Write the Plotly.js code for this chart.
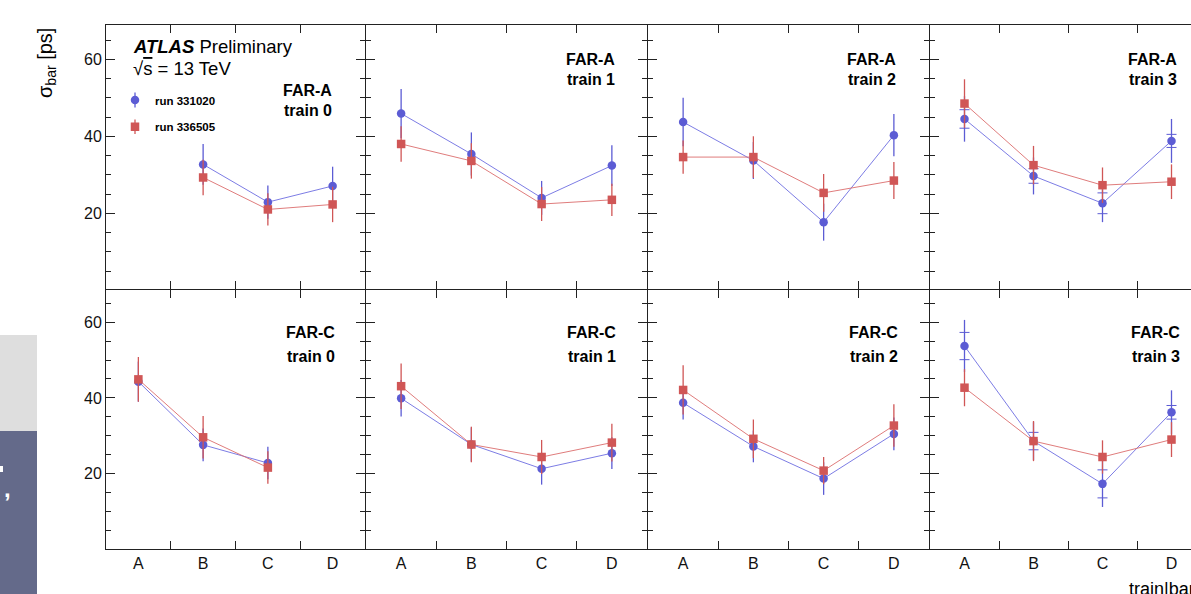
<!DOCTYPE html>
<html>
<head>
<meta charset="utf-8">
<script src="https://cdn.plot.ly/plotly-3.0.1.min.js"></script>
<style>
html, body { margin:0; padding:0; overflow:hidden; background:#fff; width:1191px; height:594px; }
#chart { width:1210px; height:600px; }
</style>
</head>
<body>
<div id="chart"></div>
<script>
// ---------------- data ----------------
const categories = ['A', 'B', 'C', 'D'];
const detectors = ['FAR-A', 'FAR-C'];
const trains = ['train 0', 'train 1', 'train 2', 'train 3'];
const runNames = ['run 331020', 'run 336505'];

// run 331020 (blue): sigma_bar [ps] per train
const run331020_FARA = [
  [null, 32.7, 22.9, 27.1],
  [45.9, 35.4, 24.0, 32.4],
  [43.7, 33.7, 17.7, 40.3],
  [44.5, 29.7, 22.6, 38.8]
];
const run331020_FARA_err = [
  [null, 5.3, 4.3, 5.0],
  [6.4, 5.6, 4.4, 5.3],
  [6.3, 4.8, 4.8, 5.5],
  [5.9, 4.8, 4.9, 5.7]
];
const run331020_FARC = [
  [44.3, 27.6, 22.8, null],
  [39.9, 27.7, 21.3, 25.4],
  [38.7, 27.2, 18.7, 30.5],
  [53.7, 28.6, 17.3, 36.2]
];
const run331020_FARC_err = [
  [5.3, 4.3, 4.3, null],
  [4.8, 4.5, 4.2, 4.2],
  [4.4, 4.2, 4.3, 4.3],
  [6.9, 5.0, 6.1, 5.8]
];
// inner (capped) uncertainty, train 3 only
const run331020_FARA_train3_inner = [2.4, 1.9, 2.7, 1.7];
const run331020_FARC_train3_inner = [3.6, 2.3, 3.7, 1.8];

// run 336505 (red)
const run336505_FARA = [
  [null, 29.3, 21.0, 22.3],
  [38.0, 33.6, 22.4, 23.5],
  [34.6, 34.6, 25.3, 28.5],
  [48.5, 32.5, 27.3, 28.2]
];
const run336505_FARA_err = [
  [null, 4.6, 4.2, 4.6],
  [4.6, 4.6, 4.4, 4.2],
  [4.3, 5.4, 4.9, 4.8],
  [6.3, 5.0, 4.6, 4.5]
];
const run336505_FARC = [
  [44.9, 29.6, 21.6, null],
  [43.1, 27.7, 24.4, 28.2],
  [42.1, 29.2, 20.8, 32.7],
  [42.7, 28.6, 24.4, 29.0]
];
const run336505_FARC_err = [
  [5.9, 5.6, 4.3, null],
  [6.0, 4.7, 4.5, 5.0],
  [6.5, 5.1, 3.6, 5.6],
  [4.9, 5.3, 4.4, 4.6]
];

// ---------------- layout helpers ----------------
const W = 1210, H = 600;
const px = v => v / W;
const py = v => 1 - v / H;

// frame line positions (px); panels sit between them with a half-pixel inset
const colEdges = [105.5, 365.5, 647.5, 929.5, 1206.5];
const rowEdges = [24.5, 289.5, 549.5];
const yRanges = [[0.34, 68.9], [0.1, 68.5]];

const BLUE = 'rgb(92,92,212)';
const BLUE_LINE = 'rgba(110,110,225,0.9)';
const RED = 'rgb(208,86,86)';
const RED_LINE = 'rgba(220,110,110,0.9)';
const FRAME = '#222';

const blueVals = [run331020_FARA, run331020_FARC];
const blueErrs = [run331020_FARA_err, run331020_FARC_err];
const redVals = [run336505_FARA, run336505_FARC];
const redErrs = [run336505_FARA_err, run336505_FARC_err];
const blueInner = [run331020_FARA_train3_inner, run331020_FARC_train3_inner];

const traces = [];
const layout = {
  width: W, height: H,
  margin: {l: 0, r: 0, t: 0, b: 0},
  paper_bgcolor: '#fff', plot_bgcolor: '#fff',
  font: {family: 'Liberation Sans, Arial, sans-serif', color: '#111'},
  showlegend: true,
  annotations: [], shapes: []
};

const labelPos = [
  [334, 91, 110], [616.7, 60, 80], [897.7, 60, 80], [1179.3, 60, 80],
  [336.7, 332.5, 356], [618.3, 332.5, 356], [900, 332.5, 356], [1181.7, 332.5, 356]
];

for (let i = 0; i < 8; i++) {
  const row = Math.floor(i / 4), col = i % 4;
  const s = i === 0 ? '' : String(i + 1);
  const xa = 'x' + s, ya = 'y' + s;

  layout['xaxis' + s] = {
    domain: [px(colEdges[col] + 0.5), px(colEdges[col + 1] - 0.5)],
    anchor: ya, type: 'category', categoryorder: 'array', categoryarray: categories,
    range: [-0.5, 3.5], tickson: 'boundaries',
    ticks: 'inside', ticklen: 8, tickwidth: 1, tickcolor: FRAME,
    mirror: 'ticks', showline: true, linecolor: FRAME, linewidth: 1,
    showgrid: false, zeroline: false, fixedrange: true,
    showticklabels: row === 1, tickfont: {size: 16, color: '#111'}
  };
  layout['yaxis' + s] = {
    domain: [py(rowEdges[row + 1] - 0.5), py(rowEdges[row] + 0.5)],
    anchor: xa, range: yRanges[row],
    tickmode: 'linear', tick0: 0, dtick: 20,
    ticks: 'inside', ticklen: 9, tickwidth: 1, tickcolor: FRAME,
    minor: {tick0: 0, dtick: 5, ticks: 'inside', ticklen: 5, tickwidth: 1, tickcolor: FRAME},
    mirror: 'ticks', showline: true, linecolor: FRAME, linewidth: 1,
    showgrid: false, zeroline: false, fixedrange: true,
    showticklabels: col === 0, tickfont: {size: 16, color: '#111'}
  };

  if (col === 3) {
    traces.push({
      x: categories, y: blueVals[row][col], xaxis: xa, yaxis: ya,
      type: 'scatter', mode: 'markers', showlegend: false, hoverinfo: 'skip',
      marker: {size: 1, color: 'rgba(0,0,0,0)'},
      error_y: {type: 'data', array: blueInner[row], visible: true, width: 5, thickness: 1, color: BLUE}
    });
  }
  traces.push({
    x: categories, y: blueVals[row][col], xaxis: xa, yaxis: ya,
    type: 'scatter', mode: 'lines+markers', showlegend: false, hoverinfo: 'skip',
    name: runNames[0], connectgaps: false,
    line: {color: BLUE_LINE, width: 1},
    marker: {symbol: 'circle', size: 8.5, color: BLUE},
    error_y: {type: 'data', array: blueErrs[row][col], visible: true, width: 0, thickness: 1.3, color: BLUE}
  });
  traces.push({
    x: categories, y: redVals[row][col], xaxis: xa, yaxis: ya,
    type: 'scatter', mode: 'lines+markers', showlegend: false, hoverinfo: 'skip',
    name: runNames[1], connectgaps: false,
    line: {color: RED_LINE, width: 1},
    marker: {symbol: 'square', size: 8.5, color: RED},
    error_y: {type: 'data', array: redErrs[row][col], visible: true, width: 0, thickness: 1.3, color: RED}
  });

  const lp = labelPos[i];
  layout.annotations.push({
    xref: 'paper', yref: 'paper', x: px(lp[0]), y: py(lp[1]), xanchor: 'right', yanchor: 'middle',
    text: '<b>' + detectors[row] + '</b>', showarrow: false, font: {size: 16, color: '#000'}
  });
  layout.annotations.push({
    xref: 'paper', yref: 'paper', x: px(lp[0]), y: py(lp[2]), xanchor: 'right', yanchor: 'middle',
    text: '<b>' + trains[col] + '</b>', showarrow: false, font: {size: 16, color: '#000'}
  });
}

// legend entries (marker only)
traces.push({x: [null], y: [null], xaxis: 'x', yaxis: 'y', type: 'scatter', mode: 'markers',
  name: runNames[0], legend: 'legend', marker: {symbol: 'circle', size: 8.5, color: BLUE}});
traces.push({x: [null], y: [null], xaxis: 'x', yaxis: 'y', type: 'scatter', mode: 'markers',
  name: runNames[1], legend: 'legend2', marker: {symbol: 'square', size: 8.5, color: RED}});

const legFont = {size: 11.5, color: '#000', weight: 'bold'};
layout.legend = {x: px(115), y: py(100), xanchor: 'left', yanchor: 'middle', bgcolor: 'rgba(0,0,0,0)',
  borderwidth: 0, font: legFont, itemwidth: 30};
layout.legend2 = {x: px(115), y: py(126.7), xanchor: 'left', yanchor: 'middle', bgcolor: 'rgba(0,0,0,0)',
  borderwidth: 0, font: legFont, itemwidth: 30};
// vertical error strokes through the legend symbols
layout.shapes.push({type: 'line', xref: 'paper', yref: 'paper', x0: px(135), x1: px(135), y0: py(92.5), y1: py(107.5),
  line: {color: BLUE, width: 1.3}});
layout.shapes.push({type: 'line', xref: 'paper', yref: 'paper', x0: px(135), x1: px(135), y0: py(119.5), y1: py(134),
  line: {color: RED, width: 1.3}});

// texts
layout.annotations.push({
  xref: 'paper', yref: 'paper', x: px(131), y: py(46.5), xanchor: 'left', yanchor: 'middle',
  text: '<b><i>ATLAS</i></b> Preliminary', showarrow: false, font: {size: 18.5, color: '#000'}
});
layout.annotations.push({
  xref: 'paper', yref: 'paper', x: px(131), y: py(68.5), xanchor: 'left', yanchor: 'middle',
  text: '√<span style="text-decoration:overline">s</span> = 13 TeV', showarrow: false, font: {size: 18.5, color: '#000'}
});
layout.annotations.push({
  xref: 'paper', yref: 'paper', x: px(47), y: py(63), xanchor: 'center', yanchor: 'middle', textangle: -90,
  text: 'σ<sub>bar</sub> [ps]', showarrow: false, font: {size: 20, color: '#000'}
});
layout.annotations.push({
  xref: 'paper', yref: 'paper', x: px(1127), y: py(589), xanchor: 'left', yanchor: 'middle',
  text: 'train|bar', showarrow: false, font: {size: 18, color: '#000'}
});

// cropped page fragments on the left edge
layout.shapes.push({type: 'rect', xref: 'paper', yref: 'paper', x0: px(0), x1: px(37), y0: py(335), y1: py(431),
  fillcolor: '#dedede', line: {width: 0}, layer: 'below'});
layout.shapes.push({type: 'rect', xref: 'paper', yref: 'paper', x0: px(0), x1: px(37), y0: py(431), y1: py(600),
  fillcolor: '#646a8a', line: {width: 0}, layer: 'below'});
layout.shapes.push({type: 'rect', xref: 'paper', yref: 'paper', x0: px(0), x1: px(3), y0: py(466), y1: py(472),
  fillcolor: '#fff', line: {width: 0}});
layout.annotations.push({
  xref: 'paper', yref: 'paper', x: px(2), y: py(488), xanchor: 'left', yanchor: 'middle',
  text: '<b>,</b>', showarrow: false, font: {size: 24, color: '#fff'}
});

Plotly.newPlot('chart', traces, layout, {staticPlot: true, displayModeBar: false});
</script>
</body>
</html>
